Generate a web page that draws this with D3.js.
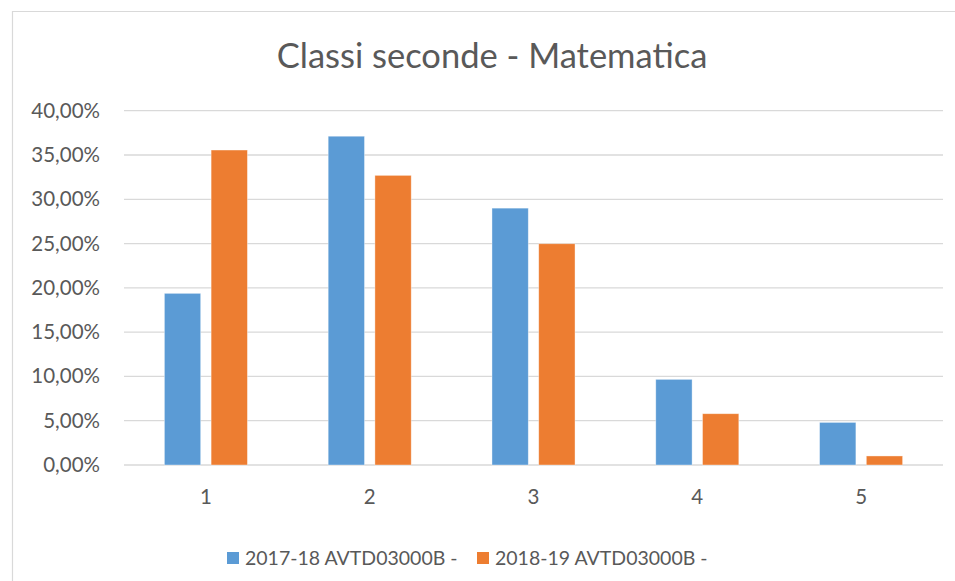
<!DOCTYPE html>
<html lang="it">
<head>
    <meta charset="UTF-8">
    <title>Classi seconde - Matematica</title>
    <script src="https://d3js.org/d3.v7.min.js"></script>
    <style>
    body { margin: 0; background: #fff; }
    text { font-family: Lato, "Open Sans", sans-serif; fill: #595959; }
    </style>
</head>
<body>
    <div id="chart"></div>
    <script>
    // dati
    var categorie = ["1", "2", "3", "4", "5"];
    var serie = ["2017-18 AVTD03000B -", "2018-19 AVTD03000B -"];
    var valori2017 = [0.1938, 0.3712, 0.2900, 0.0967, 0.0481];
    var valori2018 = [0.3556, 0.3270, 0.2498, 0.0579, 0.0102];
    var tickY = [0, 0.05, 0.10, 0.15, 0.20, 0.25, 0.30, 0.35, 0.40];
    var colori = ["#5B9BD5", "#ED7D31"];

    var W = 955, H = 581;
    var margin = { left: 124, right: 12, top: 110.7, bottom: 116 };

    var svg = d3.select("#chart")
        .append("svg")
        .attr("width", W)
        .attr("height", H);

    // bordo del riquadro (solo sopra e a sinistra visibili)
    svg.append("path")
        .attr("d", "M12.5," + H + "V11.5H" + W)
        .attr("fill", "none")
        .attr("stroke", "#d9d9d9")
        .attr("stroke-width", 1.2);

    var y = d3.scaleLinear()
        .domain([0, 0.40])
        .range([H - margin.bottom, margin.top]);

    var x0 = d3.scaleBand()
        .domain(categorie)
        .range([margin.left, W - margin.right])
        .paddingInner(0.493)
        .paddingOuter(0.2465);

    var x1 = d3.scaleBand()
        .domain(serie)
        .range([0, x0.bandwidth()])
        .paddingInner(0.223);

    var it = d3.formatLocale({ decimal: ",", thousands: ".", grouping: [3], currency: ["€", ""] });
    var fmt = it.format(".2%");

    // griglia
    svg.append("g")
        .selectAll("line")
        .data(tickY)
        .enter()
        .append("line")
        .attr("x1", margin.left)
        .attr("x2", W - margin.right)
        .attr("y1", d => y(d))
        .attr("y2", d => y(d))
        .attr("stroke", "#d9d9d9")
        .attr("stroke-width", 1.3);

    // asse y
    var assey = svg.append("g")
        .attr("transform", "translate(100,0)")
        .call(d3.axisLeft(y).tickValues(tickY).tickFormat(fmt).tickSize(0).tickPadding(0));
    assey.select(".domain").remove();
    assey.selectAll("text")
        .style("font-size", "20.5px")
        .style("fill", "#595959");

    // barre
    var righe = categorie.map((c, i) => ({ cat: c, vals: [valori2017[i], valori2018[i]] }));

    svg.append("g")
        .selectAll("g")
        .data(righe)
        .enter()
        .append("g")
        .attr("transform", d => "translate(" + x0(d.cat) + ",0)")
        .selectAll("rect")
        .data(d => d.vals.map((v, j) => ({ s: serie[j], v: v, j: j })))
        .enter()
        .append("rect")
        .attr("x", d => x1(d.s))
        .attr("width", x1.bandwidth())
        .attr("y", d => y(d.v))
        .attr("height", d => y(0) - y(d.v))
        .attr("fill", d => colori[d.j])
        .attr("stroke", "#fff")
        .attr("stroke-opacity", 0.5)
        .attr("stroke-width", 0.75);

    // asse x
    var assex = svg.append("g")
        .attr("transform", "translate(0," + y(0) + ")")
        .call(d3.axisBottom(x0).tickSize(0).tickPadding(24));
    assex.select(".domain").remove();
    assex.selectAll("text")
        .style("font-size", "20.5px")
        .style("fill", "#595959");

    // titolo
    svg.append("text")
        .attr("x", 492)
        .attr("y", 68)
        .attr("text-anchor", "middle")
        .style("font-size", "34.5px")
        .text("Classi seconde - Matematica");

    // legenda
    var legX = [227, 477];
    var leg = svg.append("g")
        .selectAll("g")
        .data(serie)
        .enter()
        .append("g")
        .attr("transform", (d, i) => "translate(" + legX[i] + ",552)");
    leg.append("rect")
        .attr("width", 12)
        .attr("height", 12)
        .attr("fill", (d, i) => colori[i]);
    leg.append("text")
        .attr("x", 18)
        .attr("y", 13)
        .style("font-size", "19.5px")
        .text(d => d);
    </script>
</body>
</html>
